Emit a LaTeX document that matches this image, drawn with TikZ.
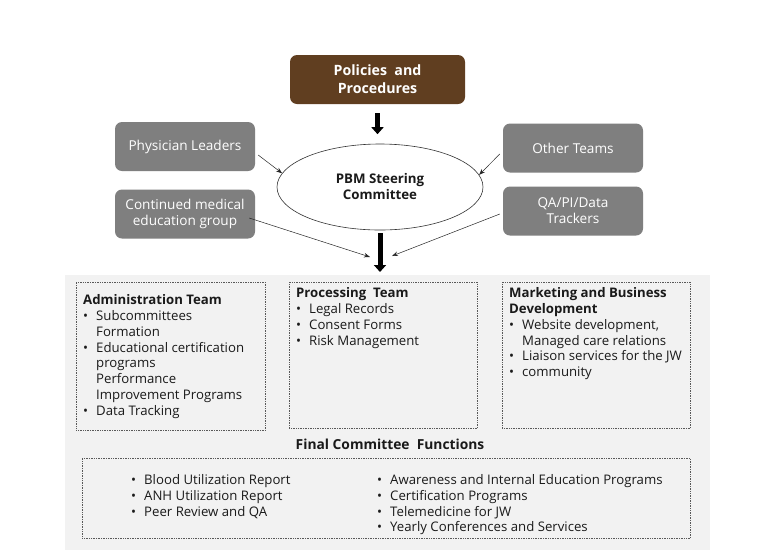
\documentclass[tikz,border=0pt]{standalone}
\usepackage{fontspec}
\setmainfont{Open Sans}
\usetikzlibrary{arrows.meta,shapes.geometric,calc}
\definecolor{brownbox}{HTML}{603E20}
\definecolor{boxgray}{HTML}{7F7F7F}
\definecolor{panel}{HTML}{F2F2F2}
\definecolor{txt}{HTML}{1A1A1A}
\newcommand{\bl}[1]{\makebox[13pt][l]{\textbullet}#1}
\newcommand{\cn}[1]{\hspace*{13pt}#1}
\begin{document}
\begin{tikzpicture}[x=1pt,y=-1pt,
  gbox/.style={fill=boxgray, rounded corners=7pt, text=white, minimum width=140pt, minimum height=49pt, align=center, inner sep=0pt, font=\fontsize{13.6}{16}\selectfont},
  pbox/.style={fill=brownbox, rounded corners=7pt, text=white, minimum width=175pt, minimum height=49pt, align=center, inner sep=0pt, font=\bfseries\fontsize{14.2}{18}\selectfont},
  dbox/.style={draw=black!65, densely dotted, line width=0.7pt, anchor=north west, inner sep=0pt},
  lst/.style={anchor=north west, inner sep=0pt, align=left, text=txt, font=\fontsize{13.2}{15.8}\selectfont},
  thin/.style={draw=black!85, line width=0.5pt, -{Stealth[length=6pt,width=4.5pt]}},
  thick/.style={draw=black, line width=5pt, -{Triangle[length=7pt,width=12pt]}}
]
\useasboundingbox (0,0) rectangle (760,555);
\fill[white] (0,0) rectangle (760,555);
\node[pbox] (pol) at (377.5,79.5) {Policies\ \ and\\Procedures};
\node[draw=black!80, line width=0.6pt, ellipse, minimum width=206pt, minimum height=86pt, align=center, font=\bfseries\fontsize{13.3}{16}\selectfont, text=txt] (steer) at (380,187) {PBM Steering\\Committee};
\node[gbox] (phys) at (185,146.5) {Physician Leaders};
\node[gbox] (cme) at (185,214) {Continued medical\\education group};
\node[gbox] (oth) at (573,148) {Other Teams};
\node[gbox] (qa) at (573,211) {QA/PI/Data\\Trackers};
\coordinate (conv) at (380,272);
\draw[thick, shorten <=9pt] (pol.south) -- ($(pol.south)+(0,30)$) coordinate (polend);
\draw[thick] (steer.south) ++(0,3) coordinate (s2) -- (conv);
\draw[thin] ($(phys.east)+(3,8.5)$) -- (steer.172);
\draw[thin] ($(oth.west)+(-3,6)$) -- (steer.7);
\draw[thin] ($(cme.east)+(-6,4)$) -- (370,257) coordinate (c1);
\draw[thin] ($(qa.west)+(-3,3)$) -- (392,256) coordinate (c2);
% panel
\fill[panel] (65,275) rectangle (710,550);
\node[dbox, minimum width=189pt, minimum height=148pt] (adm) at (76,282) {};
\node[dbox, minimum width=188pt, minimum height=146pt] (proc) at (289,282) {};
\node[dbox, minimum width=188pt, minimum height=146pt] (mkt) at (502,282) {};
\node[dbox, minimum width=608pt, minimum height=80pt] (fin) at (82,458) {};
\node[lst] (admt) at (83,294.5) {\textbf{Administration Team}\\
\bl{Subcommittees}\\ \cn{Formation}\\ \bl{Educational certification}\\ \cn{programs}\\ \cn{Performance}\\ \cn{Improvement Programs}\\ \bl{Data Tracking}};
\node[lst] (proct) at (296,287.5) {\textbf{Processing\ \ Team}\\
\bl{Legal Records}\\ \bl{Consent Forms}\\ \bl{Risk Management}};
\node[lst] (mktt) at (509,287.5) {\textbf{Marketing and Business}\\ \textbf{Development}\\
\bl{Website development,}\\ \cn{Managed care relations}\\ \bl{Liaison services for the JW}\\ \bl{community}};
\node[font=\bfseries\fontsize{13.8}{16}\selectfont, text=txt] (fct) at (390,444.5) {Final Committee\ \ Functions};
\node[lst, font=\fontsize{13.2}{15.7}\selectfont] (finl) at (131,474.5) {\bl{Blood Utilization Report}\\ \bl{ANH Utilization Report}\\ \bl{Peer Review and QA}};
\node[lst, font=\fontsize{13.2}{15.7}\selectfont] (finr) at (377,474.5) {\bl{Awareness and Internal Education Programs}\\ \bl{Certification Programs}\\ \bl{Telemedicine for JW}\\ \bl{Yearly Conferences and Services}};
\end{tikzpicture}
\end{document}
